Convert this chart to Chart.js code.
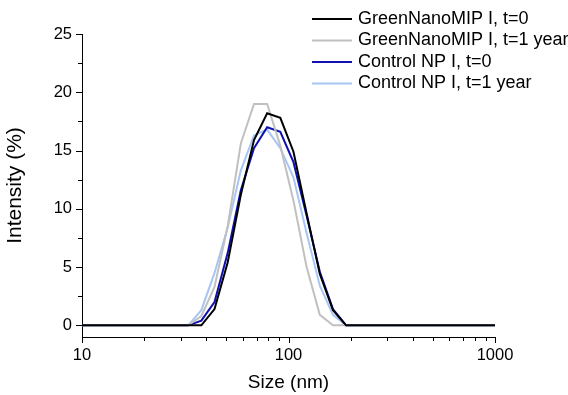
<!DOCTYPE html>
<html>
<head>
<meta charset="utf-8">
<script src="https://cdn.jsdelivr.net/npm/chart.js@4"></script>
<style>
  body { margin: 0; background: #fff; }
  #wrap { width: 568px; height: 395px; position: relative; }
</style>
</head>
<body>
<div id="wrap"><canvas id="mycanvas"></canvas></div>
<script>
// DLS size bins (nm)
var sizes = [8.721, 10.10, 11.70, 13.54, 15.69, 18.17, 21.04, 24.36, 28.21, 32.67,
  37.84, 43.82, 50.75, 58.77, 68.06, 78.82, 91.28, 105.7, 122.4, 141.8,
  164.2, 190.1, 220.2, 255.0, 295.3, 342.0, 396.1, 458.7, 531.2, 615.1,
  712.4, 825.0, 955.4, 1106];

var labels = ['GreenNanoMIP I, t=0', 'GreenNanoMIP I, t=1 year', 'Control NP I, t=0', 'Control NP I, t=1 year'];

var mipT0 = [0, 0, 0, 0, 0, 0, 0, 0, 0, 0,
  0, 1.4, 5.4, 11.2, 15.9, 18.2, 17.8, 14.9, 9.6, 4.4,
  1.3, 0, 0, 0, 0, 0, 0, 0, 0, 0, 0, 0, 0, 0];
var mipT1 = [0, 0, 0, 0, 0, 0, 0, 0, 0, 0,
  0.8, 3.3, 8.5, 15.6, 19.0, 19.0, 15.4, 10.7, 5.0, 0.9,
  0, 0, 0, 0, 0, 0, 0, 0, 0, 0, 0, 0, 0, 0];
var ctrlT0 = [0, 0, 0, 0, 0, 0, 0, 0, 0, 0,
  0.4, 2.0, 6.2, 11.6, 15.2, 17.0, 16.6, 14.0, 9.4, 4.6,
  1.4, 0, 0, 0, 0, 0, 0, 0, 0, 0, 0, 0, 0, 0];
var ctrlT1 = [0, 0, 0, 0, 0, 0, 0, 0, 0, 0,
  1.3, 4.5, 8.4, 13.3, 16.3, 16.8, 15.2, 12.7, 7.9, 3.4,
  0.9, 0, 0, 0, 0, 0, 0, 0, 0, 0, 0, 0, 0, 0];

var xTicks = [10, 20, 30, 40, 50, 60, 70, 80, 90, 100, 200, 300, 400, 500, 600, 700, 800, 900, 1000];
var xLabels = [10, 100, 1000];
var yTicks = [0, 2.5, 5, 7.5, 10, 12.5, 15, 17.5, 20, 22.5, 25];
var yLabels = [0, 5, 10, 15, 20, 25];

var colors = ['#000000', '#c0c0c0', '#1010b0', '#a6c6f4'];
var series = [mipT0, mipT1, ctrlT0, ctrlT1];

function pts(vals) {
  return sizes.map(function(s, i) { return {x: s, y: vals[i]}; });
}

var datasets = series.map(function(vals, i) {
  return {
    label: labels[i],
    data: pts(vals),
    borderColor: colors[i],
    borderWidth: 2,
    pointRadius: 0,
    tension: 0,
    fill: false
  };
});

// tick marks: long for labelled values, short for the rest
var tickMarks = {
  id: 'tickMarks',
  afterDraw: function(chart) {
    var ctx = chart.ctx;
    var xs = chart.scales.x, ys = chart.scales.y;
    ctx.save();
    ctx.strokeStyle = '#000';
    ctx.lineWidth = 1;
    ctx.beginPath();
    xs.ticks.forEach(function(t) {
      var px = Math.round(xs.getPixelForValue(t.value)) + 0.5;
      var len = xLabels.indexOf(t.value) >= 0 ? 6 : 4;
      ctx.moveTo(px, xs.top);
      ctx.lineTo(px, xs.top + len);
    });
    ys.ticks.forEach(function(t) {
      var py = Math.round(ys.getPixelForValue(t.value)) + 0.5;
      var len = yLabels.indexOf(t.value) >= 0 ? 6 : 4;
      ctx.moveTo(ys.right, py);
      ctx.lineTo(ys.right - len, py);
    });
    ctx.stroke();
    ctx.restore();
  }
};

// legend in the top right corner
var cornerLegend = {
  id: 'cornerLegend',
  afterDraw: function(chart) {
    var ctx = chart.ctx;
    ctx.save();
    ctx.font = '18px "Liberation Sans", Arial, sans-serif';
    ctx.textBaseline = 'middle';
    ctx.textAlign = 'left';
    chart.data.datasets.forEach(function(ds, i) {
      var y = 19 + i * 21.5;
      ctx.strokeStyle = ds.borderColor;
      ctx.lineWidth = 2;
      ctx.beginPath();
      ctx.moveTo(312, y);
      ctx.lineTo(352, y);
      ctx.stroke();
      ctx.fillStyle = '#000';
      ctx.fillText(ds.label, 358, y);
    });
    ctx.restore();
  }
};

var ctx = document.getElementById('mycanvas');

var chart = new Chart(ctx, {
  type: 'line',
  data: { datasets: datasets },
  options: {
    responsive: true,
    maintainAspectRatio: false,
    animation: false,
    layout: { padding: { top: 34, right: 73, left: 0, bottom: 0 } },
    plugins: {
      legend: { display: false },
      tooltip: { enabled: false }
    },
    scales: {
      x: {
        type: 'logarithmic',
        min: 10,
        max: 1000,
        afterBuildTicks: function(scale) {
          scale.ticks = xTicks.map(function(v) { return {value: v}; });
        },
        afterFit: function(scale) { scale.height = 58; },
        ticks: {
          autoSkip: false,
          maxRotation: 0,
          padding: 3,
          color: '#000',
          font: { family: '"Liberation Sans", Arial, sans-serif', size: 16.5 },
          callback: function(value) {
            return xLabels.indexOf(value) >= 0 ? String(value) : '';
          }
        },
        grid: { display: false, drawTicks: true, tickLength: 6 },
        border: { display: true, color: '#000', width: 1 },
        title: {
          display: true,
          text: 'Size (nm)',
          color: '#000',
          padding: { top: 0, bottom: 1 },
          font: { family: '"Liberation Sans", Arial, sans-serif', size: 19 }
        }
      },
      y: {
        min: -1,
        max: 25,
        afterBuildTicks: function(scale) {
          scale.ticks = yTicks.map(function(v) { return {value: v}; });
        },
        afterFit: function(scale) { scale.width = 82; },
        ticks: {
          autoSkip: false,
          padding: 4,
          color: '#000',
          font: { family: '"Liberation Sans", Arial, sans-serif', size: 16.5 },
          callback: function(value) {
            return yLabels.indexOf(value) >= 0 ? String(value) : '';
          }
        },
        grid: { display: false, drawTicks: true, tickLength: 6 },
        border: { display: true, color: '#000', width: 1 },
        title: {
          display: true,
          text: 'Intensity (%)',
          color: '#000',
          padding: { top: 3, bottom: 0 },
          font: { family: '"Liberation Sans", Arial, sans-serif', size: 21 }
        }
      }
    }
  },
  plugins: [tickMarks, cornerLegend]
});
</script>
</body>
</html>
